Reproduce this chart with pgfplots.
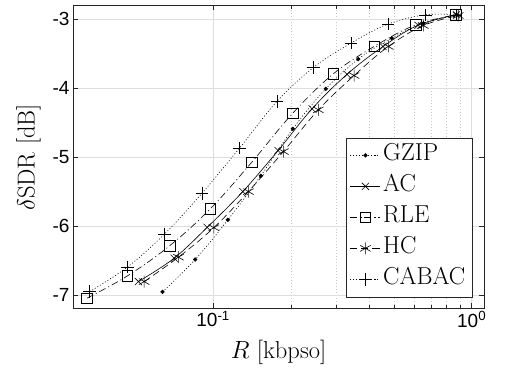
\documentclass[border=0pt]{standalone}
\usepackage{pgfplots}
\pgfplotsset{compat=1.18}
\usepackage{fontspec}
\newfontfamily\tickfont{Liberation Sans}
\begin{document}
\begin{tikzpicture}
\begin{axis}[
  scale only axis, width=411pt, height=303pt,
  xmode=log, xmin=0.0287, xmax=1.116, ymin=-7.19, ymax=-2.8,
  xtick={0.1,1}, xticklabels={10\textsuperscript{-1},10\textsuperscript{0}},
  ytick={-7,-6,-5,-4,-3}, yticklabels={-7,-6,-5,-4,-3},
  ticklabel style={font=\tickfont\fontsize{19}{22}\selectfont},
  tick align=inside, major tick length=5pt, minor tick length=3.5pt,
  grid=both,
  major grid style={black!13,line width=0.5pt},
  minor grid style={black!22, line width=0.4pt, dash pattern=on 1pt off 2pt},
  axis line style={black!85, line width=0.6pt},
  tick style={black!85,line width=0.5pt},
  xlabel={$R$ [kbpso]}, ylabel={$\delta$SDR [dB]},
  label style={font=\fontsize{24.5}{29}\selectfont},
  xlabel style={at={(axis description cs:0.5,-0.145)}, anchor=center},
  ylabel style={at={(axis description cs:-0.108,0.497)}, anchor=center},
  legend cell align=left,
  legend image code/.code={\draw[mark repeat=2,mark phase=2,#1] plot coordinates {(0pt,0pt) (15pt,0pt) (30pt,0pt)};},
  legend style={at={(rel axis cs:0.971,0.036)}, anchor=south east, draw=black!85, line width=0.5pt,
    font=\fontsize{24.5}{29}\selectfont, inner xsep=4pt, inner ysep=2pt,
    nodes={text height=17pt, text depth=6pt, inner ysep=4pt, inner xsep=2.5pt}},
  every axis plot/.append style={line width=0.6pt, black, smooth, tension=0.6},
]
\addplot[dash pattern=on 1pt off 2pt, mark=*, mark size=1.8pt, mark options={solid}] coordinates {
(0.0637,-6.957) (0.0852,-6.488) (0.1140,-5.913) (0.1529,-5.275) (0.2033,-4.594) (0.2727,-4.014) (0.3644,-3.584) (0.4905,-3.280) (0.651,-3.065) (0.875,-2.942)};
\addlegendentry{GZIP}
\addplot[solid, mark=x, mark size=5pt] coordinates {
(0.0514,-6.807) (0.0707,-6.468) (0.0948,-6.022) (0.1302,-5.503) (0.1783,-4.909) (0.2413,-4.304) (0.3296,-3.804) (0.4541,-3.401) (0.6201,-3.094) (0.8734,-2.942)};
\addlegendentry{AC}
\addplot[dash pattern=on 7pt off 3pt on 1pt off 3pt, mark=square, mark size=5.3pt, mark options={solid}] coordinates {
(0.0325,-7.048) (0.0466,-6.725) (0.0678,-6.29) (0.0974,-5.754) (0.1411,-5.077) (0.2033,-4.367) (0.2917,-3.797) (0.4194,-3.401) (0.6075,-3.087) (0.8672,-2.942)};
\addlegendentry{RLE}
\addplot[dash pattern=on 7pt off 4pt, mark=asterisk, mark size=6pt, mark options={solid}] coordinates {
(0.0541,-6.807) (0.0734,-6.454) (0.1006,-6.026) (0.1369,-5.503) (0.1870,-4.923) (0.2553,-4.319) (0.3508,-3.822) (0.4761,-3.401) (0.650,-3.097) (0.8876,-2.952)};
\addlegendentry{HC}
\addplot[dash pattern=on 1pt off 2pt, mark=+, mark size=6.3pt, mark options={solid}] coordinates {
(0.0333,-6.952) (0.0467,-6.594) (0.0649,-6.116) (0.0904,-5.529) (0.1264,-4.874) (0.1763,-4.199) (0.2442,-3.706) (0.3415,-3.352) (0.4747,-3.077) (0.663,-2.942) (0.8697,-2.942)};
\addlegendentry{CABAC}
\end{axis}
\pgfresetboundingbox
\path[use as bounding box] (-73pt,-62pt) rectangle (434pt,308pt);
\end{tikzpicture}
\end{document}
